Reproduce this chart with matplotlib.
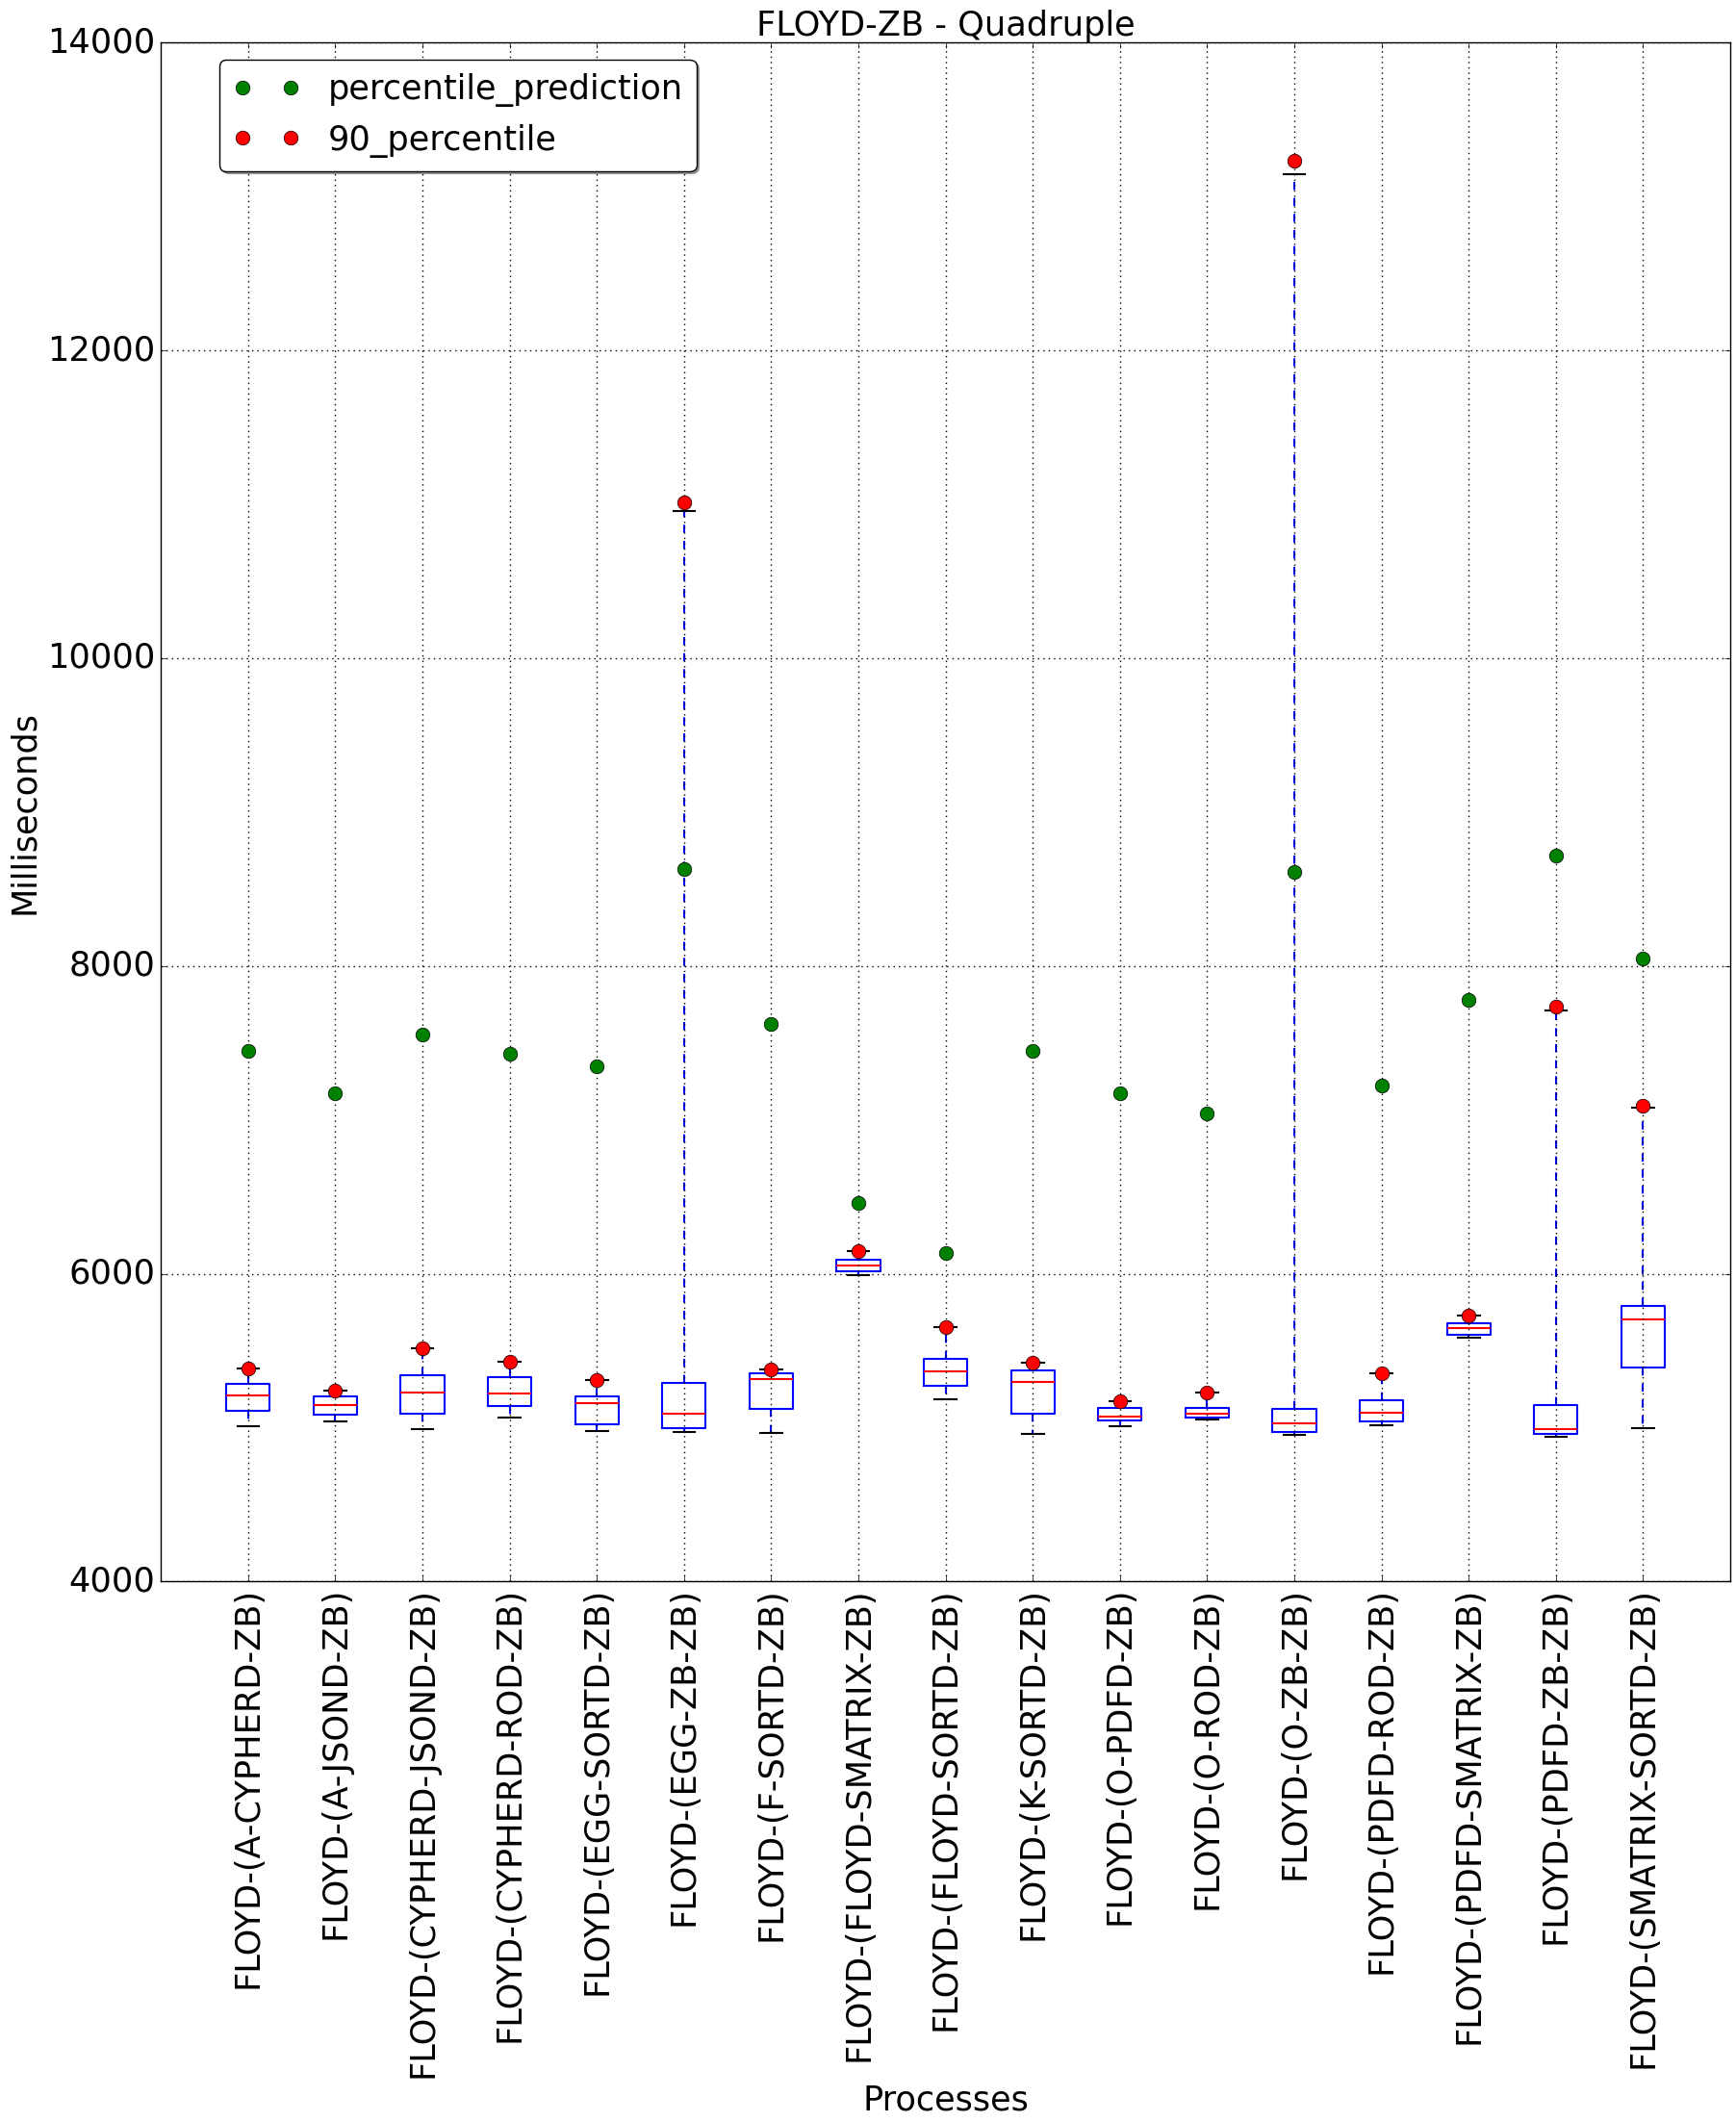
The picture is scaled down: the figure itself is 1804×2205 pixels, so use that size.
import matplotlib
matplotlib.use("Agg")
import matplotlib.pyplot as plt

plt.style.use("classic")
plt.rcParams['font.family'] = ['DejaVu Sans']

processes = [
    "FLOYD-(A-CYPHERD-ZB)", "FLOYD-(A-JSOND-ZB)", "FLOYD-(CYPHERD-JSOND-ZB)",
    "FLOYD-(CYPHERD-ROD-ZB)", "FLOYD-(EGG-SORTD-ZB)", "FLOYD-(EGG-ZB-ZB)",
    "FLOYD-(F-SORTD-ZB)", "FLOYD-(FLOYD-SMATRIX-ZB)", "FLOYD-(FLOYD-SORTD-ZB)",
    "FLOYD-(K-SORTD-ZB)", "FLOYD-(O-PDFD-ZB)", "FLOYD-(O-ROD-ZB)",
    "FLOYD-(O-ZB-ZB)", "FLOYD-(PDFD-ROD-ZB)", "FLOYD-(PDFD-SMATRIX-ZB)",
    "FLOYD-(PDFD-ZB-ZB)", "FLOYD-(SMATRIX-SORTD-ZB)",
]
whisker_low = [5007, 5038, 4988, 5063, 4976, 4969, 4963, 5989, 5184, 4957, 5007, 5051, 4951, 5013, 5582, 4940, 4996]
q1 = [5107, 5086, 5092, 5142, 5023, 4994, 5119, 6014, 5273, 5088, 5044, 5067, 4969, 5042, 5601, 4957, 5388]
median = [5207, 5144, 5226, 5220, 5157, 5088, 5313, 6053, 5363, 5295, 5069, 5092, 5026, 5094, 5645, 4988, 5703]
q3 = [5282, 5201, 5338, 5326, 5201, 5290, 5353, 6089, 5445, 5370, 5126, 5126, 5121, 5176, 5676, 5144, 5789]
whisker_high = [5382, 5238, 5513, 5426, 5307, 10954, 5376, 6145, 5651, 5420, 5169, 5226, 13143, 5353, 5726, 7708, 7080]
percentile_90 = [5382, 5238, 5513, 5426, 5307, 11010, 5376, 6145, 5651, 5420, 5169, 5226, 13231, 5353, 5726, 7735, 7090]
percentile_prediction = [7446, 7173, 7552, 7428, 7349, 8627, 7622, 6459, 6133, 7446, 7173, 7041, 8610, 7226, 7781, 8715, 8046]

FS = 25.3

fig = plt.figure(figsize=(18.04, 22.05), dpi=100)
fig.patch.set_facecolor('white')
ax = fig.add_axes([0.0927, 0.2547, 0.904, 0.7252])

positions = list(range(1, len(processes) + 1))
stats = []
for i in range(len(processes)):
    stats.append(dict(med=median[i], q1=q1[i], q3=q3[i],
                      whislo=whisker_low[i], whishi=whisker_high[i],
                      fliers=[], label=processes[i]))

ax.bxp(stats, positions=positions, widths=0.5,
       boxprops=dict(color='b', linewidth=1.5),
       medianprops=dict(color='r', linewidth=1.5),
       whiskerprops=dict(color='b', linestyle='--', linewidth=1.5),
       capprops=dict(color='k', linewidth=1.5),
       showfliers=False)

ax.plot(positions, percentile_prediction, 'o', color='g', markersize=10.5,
        markeredgecolor='k', markeredgewidth=0.5, label='percentile_prediction', zorder=5)
ax.plot(positions, percentile_90, 'o', color='r', markersize=10.5,
        markeredgecolor='k', markeredgewidth=0.5, label='90_percentile', zorder=5)

ax.set_xlim(0, 18)
ax.set_ylim(4000, 14000)
ax.set_xticks(positions)
ax.set_xticklabels(processes, rotation=90, fontsize=FS)
ax.set_yticks([4000, 6000, 8000, 10000, 12000, 14000])
ax.tick_params(axis='y', labelsize=FS)
ax.grid(True, color='k', linestyle=':', linewidth=1)

ax.set_title("FLOYD-ZB - Quadruple", fontsize=FS)
ax.set_xlabel("Processes", fontsize=FS)
ax.set_ylabel("Milliseconds", fontsize=FS)

ax.legend(loc='upper left', bbox_to_anchor=(0.0372, 0.989), borderaxespad=0,
          numpoints=2, fancybox=True, shadow=True, fontsize=FS)

fig.savefig("out.png", dpi=100, facecolor='white')
